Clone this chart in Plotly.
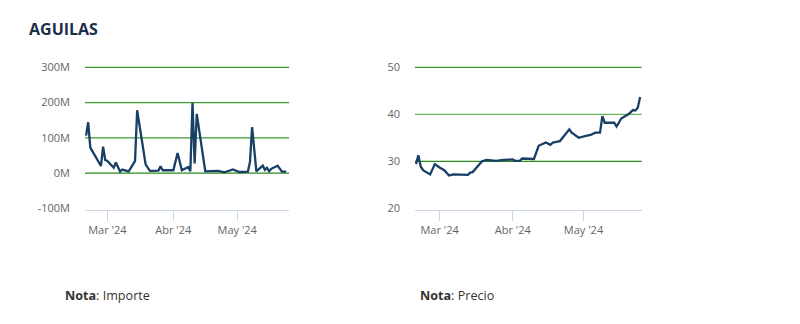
import plotly.graph_objects as go

# Importe (operaciones diarias, millones)
importe_fechas = [
    "2024-02-20", "2024-02-21", "2024-02-22", "2024-02-27", "2024-02-28", "2024-02-29",
    "2024-03-01", "2024-03-04", "2024-03-05", "2024-03-07", "2024-03-08", "2024-03-11",
    "2024-03-14", "2024-03-15", "2024-03-19", "2024-03-21", "2024-03-25", "2024-03-26",
    "2024-03-27", "2024-04-01", "2024-04-03", "2024-04-05", "2024-04-08", "2024-04-09",
    "2024-04-10", "2024-04-11", "2024-04-12", "2024-04-16", "2024-04-22", "2024-04-25",
    "2024-04-29", "2024-05-02", "2024-05-06", "2024-05-07", "2024-05-08", "2024-05-10",
    "2024-05-13", "2024-05-14", "2024-05-15", "2024-05-16", "2024-05-17", "2024-05-20",
    "2024-05-22", "2024-05-24",
]
importe_millones = [
    106, 144, 72, 20, 75, 37,
    34, 15, 30, 4, 10, 5,
    34, 178, 24, 6, 7, 19,
    8, 8, 57, 8, 17, 5,
    199, 27, 168, 5, 6, 2,
    10, 3, 4, 31, 130, 5,
    21, 9, 15, 5, 12, 21,
    4, 4,
]

# Precio
precio_fechas = [
    "2024-02-20", "2024-02-21", "2024-02-22", "2024-02-23", "2024-02-26", "2024-02-28",
    "2024-03-01", "2024-03-03", "2024-03-05", "2024-03-07", "2024-03-13", "2024-03-14",
    "2024-03-15", "2024-03-19", "2024-03-21", "2024-03-25", "2024-03-28", "2024-04-01",
    "2024-04-02", "2024-04-04", "2024-04-05", "2024-04-10", "2024-04-12", "2024-04-15",
    "2024-04-17", "2024-04-18", "2024-04-21", "2024-04-22", "2024-04-25", "2024-04-26",
    "2024-04-29", "2024-05-02", "2024-05-04", "2024-05-06", "2024-05-08", "2024-05-09",
    "2024-05-10", "2024-05-14", "2024-05-15", "2024-05-17", "2024-05-20", "2024-05-22",
    "2024-05-23", "2024-05-24", "2024-05-25",
]
precio_valores = [
    29.4, 31.3, 28.9, 28.1, 27.2, 29.4,
    28.7, 28.1, 27.0, 27.2, 27.1, 27.6,
    27.7, 30.0, 30.3, 30.1, 30.3, 30.4,
    30.1, 30.1, 30.6, 30.5, 33.3, 34.0,
    33.5, 34.0, 34.3, 34.9, 36.8, 36.1,
    35.0, 35.4, 35.6, 36.1, 36.1, 39.6,
    38.2, 38.2, 37.4, 39.1, 40.0, 40.9,
    40.8, 41.4, 43.7,
]

importe_ticks = [-100, 0, 100, 200, 300]
importe_tick_text = ["-100M", "0M", "100M", "200M", "300M"]
precio_ticks = [20, 30, 40, 50]
mes_ticks = ["2024-03-01", "2024-04-01", "2024-05-01"]
mes_tick_text = ["Mar '24", "Abr '24", "May '24"]

W, H = 800, 324
LINE = "#183f66"
AXIS = "#ccd6eb"
LABEL = "#666666"
FONT = "Open Sans, Lato, sans-serif"

# colour of each horizontal reference line, keyed by its value
importe_grid = {0: "#2a8a1c", 100: "#3f9a30", 200: "#3f9a30", 300: "#3f9a30"}
precio_grid = {30: "#2a8a1c", 40: "#6cb25d", 50: "#3f9a30"}

# plot band in pixels (top tick to bottom tick), plus a little headroom so the
# outer reference lines are not clipped by the subplot edge
TOP_PX, BOTTOM_PX, PAD_PX = 67.3, 208.3, 1.2
importe_lo, importe_hi = -100, 300
precio_lo, precio_hi = 20, 50
importe_pad = (importe_hi - importe_lo) / (BOTTOM_PX - TOP_PX) * PAD_PX
precio_pad = (precio_hi - precio_lo) / (BOTTOM_PX - TOP_PX) * PAD_PX
y_dom = [1 - (BOTTOM_PX + PAD_PX) / H, 1 - (TOP_PX - PAD_PX) / H]

fig = go.Figure()
fig.add_trace(go.Scatter(
    x=importe_fechas, y=importe_millones, mode="lines",
    line=dict(color=LINE, width=2.3), xaxis="x", yaxis="y", hoverinfo="x+y",
))
fig.add_trace(go.Scatter(
    x=precio_fechas, y=precio_valores, mode="lines",
    line=dict(color=LINE, width=2.3), xaxis="x2", yaxis="y2", hoverinfo="x+y",
))

shapes = []
for v, c in importe_grid.items():
    shapes.append(dict(type="line", xref="x domain", yref="y", x0=0, x1=1, y0=v, y1=v,
                       line=dict(color=c, width=1.3), layer="below"))
for v, c in precio_grid.items():
    shapes.append(dict(type="line", xref="x2 domain", yref="y2", x0=0, x1=1, y0=v, y1=v,
                       line=dict(color=c, width=1.3), layer="below"))

xcommon = dict(
    type="date", tickmode="array", tickvals=mes_ticks, ticktext=mes_tick_text,
    showgrid=False, showline=True, linecolor=AXIS, linewidth=1,
    ticks="outside", ticklen=10, tickcolor=AXIS, tickwidth=1,
    tickfont=dict(family=FONT, size=11, color=LABEL), zeroline=False,
    automargin=False,
)
ycommon = dict(
    tickmode="array", showgrid=False, showline=False, zeroline=False, ticks="",
    tickfont=dict(family=FONT, size=11, color=LABEL), automargin=False,
)

fig.update_layout(
    width=W, height=H, autosize=False,
    margin=dict(l=0, r=0, t=0, b=0, pad=0),
    paper_bgcolor="white", plot_bgcolor="white",
    showlegend=False,
    shapes=shapes,
    xaxis=dict(domain=[85 / W, 289 / W], range=["2024-02-19 12:00", "2024-05-25 08:00"], **xcommon),
    yaxis=dict(domain=y_dom, range=[importe_lo - importe_pad, importe_hi + importe_pad],
               tickvals=importe_ticks, ticktext=importe_tick_text, ticklabelstandoff=14,
               **ycommon),
    xaxis2=dict(domain=[415 / W, 641.7 / W], range=["2024-02-19 14:00", "2024-05-25 16:00"],
                anchor="y2", **xcommon),
    yaxis2=dict(domain=y_dom, range=[precio_lo - precio_pad, precio_hi + precio_pad],
                tickvals=precio_ticks, ticktext=[str(v) for v in precio_ticks],
                ticklabelstandoff=14, anchor="x2", **ycommon),
    annotations=[
        dict(text="<b>AGUILAS</b>", x=27 / W, y=1 - 29 / H, xref="paper", yref="paper",
             xanchor="left", yanchor="middle", showarrow=False,
             font=dict(family=FONT, size=16, color="#1c2f4a")),
        dict(text="<b>Nota</b>: Importe", x=63 / W, y=1 - 295 / H, xref="paper", yref="paper",
             xanchor="left", yanchor="middle", showarrow=False,
             font=dict(family=FONT, size=12.6, color="#333333")),
        dict(text="<b>Nota</b>: Precio", x=418 / W, y=1 - 295 / H, xref="paper", yref="paper",
             xanchor="left", yanchor="middle", showarrow=False,
             font=dict(family=FONT, size=12.6, color="#333333")),
    ],
)

fig.write_html("out.html")
